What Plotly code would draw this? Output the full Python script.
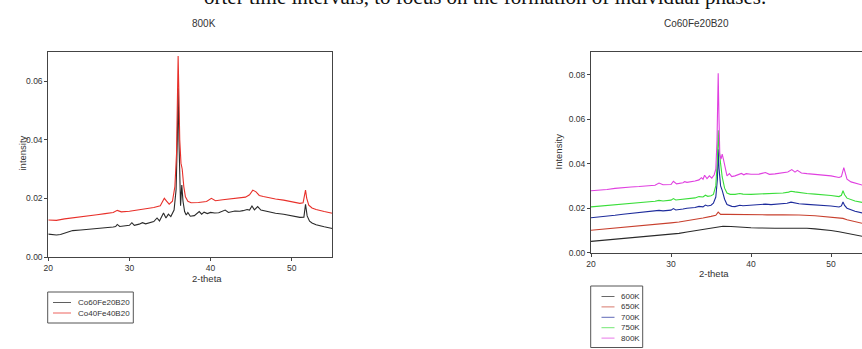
import plotly.graph_objects as go

W, H = 862, 349

# ---------------- data: left panel (800K) ----------------
left_title = "800K"
left_names = ["Co60Fe20B20", "Co40Fe40B20"]
left_colors = ["#2a2a2a", "#e8302a"]

co60_x = [20, 20.5, 21, 21.5, 22, 22.5, 23, 24, 25, 26, 27, 28, 28.3, 28.5, 28.8, 29.5, 30.0, 30.3, 30.6,
          31.2, 31.6, 32.0, 32.5, 33.0, 33.4, 33.7, 34.2, 34.5, 34.8, 35.1, 35.5, 35.75, 35.9, 36.0, 36.1,
          36.2, 36.3, 36.45, 36.6, 36.8, 37.0, 37.2, 37.5, 38.0, 38.6, 38.9, 39.2, 39.6, 40.0, 40.5, 41.0,
          41.8, 42.2, 43.0, 43.6, 44.0, 44.5, 44.8, 45.1, 45.4, 45.8, 46.2, 47.0, 48.0, 49.0, 50.0, 51.0,
          51.5, 51.7, 51.9, 52.2, 52.5, 53.0, 54.0, 55.0]
co60_y = [.0078, .0076, .0075, .0077, .0081, .0086, .0090, .0092, .0094, .0096, .0099, .0102, .0104, .0111,
          .0104, .0107, .0108, .0117, .0108, .0112, .0117, .0113, .0117, .0121, .0133, .0123, .0150, .0133,
          .0146, .0138, .0160, .0230, .0400, .0575, .0400, .0230, .0175, .0245, .0190, .0155, .0143, .0152,
          .0139, .0141, .0155, .0146, .0153, .0148, .0152, .0150, .0151, .0160, .0152, .0157, .0156, .0158,
          .0162, .0160, .0174, .0161, .0172, .0160, .0155, .0149, .0146, .0141, .0135, .0136, .0180, .0140,
          .0122, .0116, .0110, .0103, .0097]

co40_x = [20, 21, 22, 23, 24, 25, 26, 27, 28, 28.5, 29, 30, 31, 32, 33, 33.8, 34.3, 34.6, 34.9, 35.3, 35.6,
          35.8, 35.95, 36.0, 36.1, 36.2, 36.35, 36.5, 36.7, 36.9, 37.2, 37.6, 38.5, 39.5, 40.1, 40.6, 41.5,
          42.5, 43.5, 44.3, 44.8, 45.2, 45.6, 46.0, 46.5, 47.0, 48.0, 49.0, 50.0, 51.0, 51.4, 51.6, 51.7,
          51.85, 52.1, 52.5, 53.0, 54.0, 55.0]
co40_y = [.0126, .0125, .0130, .0133, .0137, .0140, .0144, .0148, .0152, .0159, .0154, .0156, .0160, .0165,
          .0169, .0175, .0200, .0190, .0180, .0190, .0240, .0350, .0600, .0685, .0550, .0400, .0320, .0300,
          .0240, .0205, .0190, .0185, .0186, .0189, .0200, .0192, .0195, .0198, .0201, .0204, .0212, .0228,
          .0222, .0210, .0206, .0203, .0198, .0194, .0189, .0183, .0185, .0215, .0228, .0200, .0177, .0167,
          .0162, .0155, .0149]

# ---------------- data: right panel (Co60Fe20B20) ----------------
right_title = "Co60Fe20B20"
right_names = ["600K", "650K", "700K", "750K", "800K"]
right_colors = ["#2a2a2a", "#c8402e", "#1e2c9c", "#3ade3a", "#e040e0"]

t600_x = [20, 21, 22, 23, 24, 25, 26, 27, 28, 29, 30, 31, 32, 33, 34, 35, 35.8, 36.5, 37.5, 38.5, 40, 41, 42,
          43, 44, 45, 46, 47, 48, 49, 50, 51, 51.5, 52, 53, 54]
t600_y = [.0051, .0054, .0057, .0061, .0064, .0066, .0069, .0072, .0075, .0078, .0082, .0087, .0093, .0099,
          .0106, .0111, .0115, .0119, .0118, .0115, .0112, .0111, .0109, .0110, .0110, .0111, .0111, .0110,
          .0107, .0104, .0100, .0094, .0090, .0086, .0078, .0073]

t650_x = [20, 21, 22, 23, 24, 25, 26, 27, 28, 29, 30, 31, 32, 33, 34, 35, 35.6, 35.9, 36.2, 37, 38, 39, 40,
          42, 44, 45, 46, 48, 50, 51, 51.5, 52, 53, 54]
t650_y = [.0101, .0104, .0107, .0110, .0113, .0116, .0119, .0122, .0125, .0129, .0134, .0138, .0143, .0149,
          .0156, .0163, .0168, .0182, .0172, .0172, .0171, .0171, .0171, .0170, .0170, .0171, .0169, .0166,
          .0161, .0157, .0154, .0148, .0139, .0131]

t700_x = [20, 21, 22, 23, 24, 25, 26, 27, 28, 28.5, 29, 30, 30.3, 30.6, 31.5, 32, 33, 33.5, 34, 34.3, 34.6,
          35, 35.3, 35.6, 35.8, 35.9, 36.0, 36.2, 36.4, 36.7, 37.0, 37.3, 37.6, 38, 38.6, 39, 39.5, 40, 41,
          41.8, 42.5, 43, 44, 44.5, 45, 45.5, 46, 47, 48, 49, 50, 51, 51.3, 51.5, 51.7, 52, 52.5, 53, 54]
t700_y = [.0157, .0160, .0164, .0168, .0173, .0177, .0180, .0184, .0187, .0190, .0188, .0191, .0198, .0192,
          .0196, .0200, .0203, .0208, .0206, .0214, .0210, .0213, .0222, .0250, .0330, .0465, .0380, .0300,
          .0280, .0240, .0216, .0212, .0208, .0207, .0213, .0211, .0212, .0213, .0214, .0218, .0216, .0217,
          .0219, .0222, .0227, .0223, .0220, .0217, .0215, .0213, .0210, .0205, .0210, .0228, .0212, .0200,
          .0193, .0186, .0178]

t750_x = [20, 21, 22, 23, 24, 25, 26, 27, 28, 28.5, 29, 30, 30.3, 30.6, 31.5, 32, 33, 33.5, 34, 34.3, 34.6,
          35, 35.3, 35.6, 35.8, 35.9, 36.0, 36.2, 36.4, 36.7, 37.0, 37.4, 38, 38.6, 39, 40, 41, 41.8, 42.5,
          43, 44, 44.7, 45, 45.5, 46, 47, 48, 49, 50, 51, 51.3, 51.5, 51.7, 52, 52.5, 53, 54]
t750_y = [.0206, .0209, .0213, .0217, .0221, .0223, .0225, .0228, .0231, .0235, .0232, .0236, .0243, .0237,
          .0240, .0243, .0246, .0252, .0250, .0258, .0253, .0256, .0262, .0300, .0420, .0550, .0470, .0400,
          .0340, .0290, .0268, .0262, .0262, .0266, .0263, .0262, .0263, .0266, .0264, .0265, .0268, .0272,
          .0276, .0273, .0270, .0266, .0263, .0261, .0257, .0252, .0258, .0278, .0260, .0245, .0238, .0232,
          .0225]

t800_x = [20, 21, 22, 23, 24, 25, 26, 27, 28, 28.5, 29, 30, 30.3, 30.7, 31.5, 31.7, 32, 33, 33.5, 33.8, 34.0,
          34.2, 34.5, 34.8, 35.1, 35.4, 35.6, 35.75, 35.9, 36.0, 36.1, 36.25, 36.4, 36.55, 36.8, 37.0, 37.3,
          37.6, 38, 38.5, 38.8, 39.1, 39.4, 40, 41, 41.8, 42.3, 43, 44, 44.6, 45.1, 45.5, 45.8, 46.3, 47,
          48, 49, 50, 51, 51.3, 51.6, 51.8, 52, 52.5, 53, 54]
t800_y = [.0278, .0280, .0284, .0289, .0293, .0295, .0297, .0300, .0303, .0313, .0305, .0306, .0321, .0309,
          .0314, .0319, .0316, .0322, .0327, .0337, .0330, .0348, .0333, .0345, .0335, .0350, .0375, .0500,
          .0806, .0600, .0440, .0420, .0443, .0420, .0370, .0345, .0355, .0342, .0345, .0350, .0356, .0350,
          .0355, .0352, .0353, .0360, .0352, .0354, .0358, .0362, .0373, .0362, .0370, .0358, .0355, .0352,
          .0349, .0345, .0338, .0342, .0382, .0350, .0330, .0318, .0312, .0303]

x_ticks = [20, 30, 40, 50]
left_y_ticks = [0.00, 0.02, 0.04, 0.06]
right_y_ticks = [0.00, 0.02, 0.04, 0.06, 0.08]
doc_text = "orter time intervals, to focus on the formation of individual phases."


def px(x):
    return x / W


def py(y):
    return (H - y) / H


FONT = "Liberation Sans, Arial, sans-serif"
AX = "#444444"
TXT = "#333333"

fig = go.Figure()

left_series = [(co60_x, co60_y), (co40_x, co40_y)]
for (xs, ys), name, col in zip(left_series, left_names, left_colors):
    fig.add_trace(go.Scatter(x=xs, y=ys, mode="lines", name=name, line=dict(color=col, width=1.1),
                             xaxis="x", yaxis="y", showlegend=False, hoverinfo="skip"))

right_series = [(t600_x, t600_y), (t650_x, t650_y), (t700_x, t700_y), (t750_x, t750_y), (t800_x, t800_y)]
for (xs, ys), name, col in zip(right_series, right_names, right_colors):
    fig.add_trace(go.Scatter(x=xs, y=ys, mode="lines", name=name, line=dict(color=col, width=1.1),
                             xaxis="x2", yaxis="y2", showlegend=False, hoverinfo="skip"))

axis_common = dict(showgrid=False, zeroline=False, showline=True, linecolor=AX, linewidth=1,
                   ticks="outside", ticklen=3, tickcolor=AX, tickwidth=1, automargin=False,
                   tickfont=dict(family=FONT, size=8.5, color=TXT))

fig.update_layout(
    template="none",
    width=W, height=H, margin=dict(l=0, r=0, t=0, b=0, pad=0, autoexpand=False),
    paper_bgcolor="white", plot_bgcolor="white", showlegend=False,
    xaxis=dict(domain=[px(48.3), px(332.3)], range=[20, 55], tickvals=x_ticks, anchor="y", mirror=True,
               **axis_common),
    yaxis=dict(domain=[py(257), py(51.7)], range=[0, 0.07], tickvals=left_y_ticks, tickformat=".2f",
               anchor="x", mirror=True, **axis_common),
    xaxis2=dict(domain=[px(591), 1.0], range=[20, 20 + (W - 591) / 8.0], tickvals=x_ticks, anchor="y2",
                mirror=True, **axis_common),
    yaxis2=dict(domain=[py(252.7), py(52.3)], range=[0, 0.09], tickvals=right_y_ticks, tickformat=".2f",
                anchor="x2", mirror=False, **axis_common),
)

ann = []
# document text cut at top
ann.append(dict(text=doc_text, x=px(485), y=py(-3), xref="paper", yref="paper", showarrow=False,
                xanchor="center", yanchor="middle",
                font=dict(family="Liberation Serif, Times New Roman, serif", size=21, color="#111111")))
# titles
ann.append(dict(text=left_title, x=px(190), y=py(16), xref="paper", yref="paper", showarrow=False,
                font=dict(family=FONT, size=10, color=TXT)))
ann.append(dict(text=right_title, x=px(731), y=py(16), xref="paper", yref="paper", showarrow=False,
                font=dict(family=FONT, size=10, color=TXT)))
# axis titles
ann.append(dict(text="2-theta", x=px(190), y=py(285.7), xref="paper", yref="paper", showarrow=False,
                font=dict(family=FONT, size=9.5, color=TXT)))
ann.append(dict(text="2-theta", x=px(731), y=py(281), xref="paper", yref="paper", showarrow=False,
                font=dict(family=FONT, size=9.5, color=TXT)))
ann.append(dict(text="intensity", x=px(14), y=py(153), xref="paper", yref="paper", showarrow=False,
                textangle=-90, font=dict(family=FONT, size=9.5, color=TXT)))
ann.append(dict(text="Intensity", x=px(557.5), y=py(152), xref="paper", yref="paper", showarrow=False,
                textangle=-90, font=dict(family=FONT, size=9.5, color=TXT)))

shapes = []
# left legend box
shapes.append(dict(type="rect", xref="paper", yref="paper", x0=px(47.7), x1=px(133.3), y0=py(323), y1=py(292),
                   line=dict(color="#555555", width=1), fillcolor="white"))
for i, (name, col) in enumerate(zip(left_names, left_colors)):
    yy = 302.5 + i * 10.5
    shapes.append(dict(type="line", xref="paper", yref="paper", x0=px(53), x1=px(71), y0=py(yy), y1=py(yy),
                       line=dict(color=col, width=1), opacity=0.75))
    ann.append(dict(text=name, x=px(75.5), y=py(yy), xref="paper", yref="paper", showarrow=False,
                    xanchor="left", yanchor="middle", font=dict(family=FONT, size=8, color=TXT)))
# right legend box
shapes.append(dict(type="rect", xref="paper", yref="paper", x0=px(590.7), x1=px(642.7), y0=py(347.5), y1=py(286),
                   line=dict(color="#555555", width=1), fillcolor="white"))
for i, (name, col) in enumerate(zip(right_names, right_colors)):
    yy = 296.5 + i * 10.4
    shapes.append(dict(type="line", xref="paper", yref="paper", x0=px(601.5), x1=px(614.5), y0=py(yy), y1=py(yy),
                       line=dict(color=col, width=1), opacity=0.7))
    ann.append(dict(text=name, x=px(618.5), y=py(yy), xref="paper", yref="paper", showarrow=False,
                    xanchor="left", yanchor="middle", font=dict(family=FONT, size=8, color=TXT)))

fig.update_layout(annotations=ann, shapes=shapes)
fig.write_html("out.html", config={"displayModeBar": False},
               post_script="document.body.style.margin='0';document.body.style.padding='0';"
                           "document.body.style.overflow='hidden';")
